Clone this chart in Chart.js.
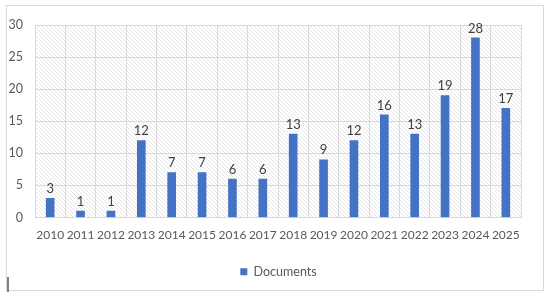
<!DOCTYPE html>
<html>
<head>
<meta charset="utf-8">
<script src="https://cdn.jsdelivr.net/npm/chart.js@4"></script>
<style>
  body { margin: 0; background: #fff; }
  #wrap { position: relative; width: 550px; height: 298px; }
  #frame { position: absolute; left: 6px; top: 5px; width: 536px; height: 284px; border: 1px solid #d9d9d9; }
  #mark { position: absolute; left: 7px; top: 277px; width: 2px; height: 15px; background: #7f7f7f; }
  canvas { position: absolute; left: 0; top: 0; }
</style>
</head>
<body>
<div id="wrap">
  <div id="frame"></div>
  <div id="mark"></div>
  <canvas id="js-chart" width="550" height="298"></canvas>
</div>
<script>
"use strict";

const years = ["2010", "2011", "2012", "2013", "2014", "2015", "2016", "2017", "2018", "2019", "2020", "2021", "2022", "2023", "2024", "2025"];
const documents = [3, 1, 1, 12, 7, 7, 6, 6, 13, 9, 12, 16, 13, 19, 28, 17];
const yTicks = [0, 5, 10, 15, 20, 25, 30];

{
  const ctx = document.getElementById("js-chart").getContext("2d");

  // hatch pattern for plot area
  function makeHatch() {
    const c = document.createElement("canvas");
    c.width = 4;
    c.height = 4;
    const p = c.getContext("2d");
    p.fillStyle = "#ffffff";
    p.fillRect(0, 0, 4, 4);
    p.strokeStyle = "#e6e6e6";
    p.lineWidth = 1;
    p.beginPath();
    p.moveTo(-1, -1);
    p.lineTo(5, 5);
    p.moveTo(-1, 3);
    p.lineTo(1, 5);
    p.moveTo(3, -1);
    p.lineTo(5, 1);
    p.stroke();
    return ctx.createPattern(c, "repeat");
  }
  const hatch = makeHatch();

  const hatchBg = {
    id: "hatchBg",
    beforeDraw(chart) {
      const a = chart.chartArea;
      const c = chart.ctx;
      c.save();
      c.fillStyle = hatch;
      c.fillRect(a.left, a.top, a.right - a.left, a.bottom - a.top);
      c.restore();
    },
  };

  // legend sits a bit right of the plot centre
  const shiftLegend = {
    id: "shiftLegend",
    afterLayout(chart) {
      chart.legend.left += 18;
      chart.legend.right += 18;
    },
  };

  // values above bars
  const valueLabels = {
    id: "valueLabels",
    afterDatasetsDraw(chart) {
      const c = chart.ctx;
      const meta = chart.getDatasetMeta(0);
      c.save();
      c.font = "13px Lato";
      c.fillStyle = "#404040";
      c.textAlign = "center";
      c.textBaseline = "bottom";
      meta.data.forEach((bar, i) => {
        c.fillText(documents[i], bar.x, bar.y - 3);
      });
      c.restore();
    },
  };

  new Chart(ctx, {
    type: "bar",
    data: {
      labels: years,
      datasets: [
        {
          label: "Documents",
          data: documents,
          backgroundColor: "#4472c4",
          barThickness: 8,
        },
      ],
    },
    options: {
      responsive: false,
      animation: false,
      layout: { padding: { left: 0, right: 29, top: 25, bottom: 10 } },
      scales: {
        x: {
          grid: { color: "#d9d9d9", offset: true, drawTicks: false },
          border: { color: "#d9d9d9" },
          ticks: { color: "#595959", font: { family: "Lato", size: 12 }, padding: 10, maxRotation: 0, autoSkip: false },
          afterFit(scale) {
            scale.height = 40;
          },
        },
        y: {
          min: 0,
          max: 30,
          afterBuildTicks(scale) {
            scale.ticks = yTicks.map((v) => ({ value: v }));
          },
          grid: { color: "#d9d9d9", drawTicks: false },
          border: { color: "#d9d9d9" },
          ticks: { color: "#595959", font: { family: "Lato", size: 12.5 }, padding: 12 },
          afterFit(scale) {
            scale.width = 35;
          },
        },
      },
      plugins: {
        legend: {
          position: "bottom",
          labels: {
            color: "#595959",
            font: { family: "Lato", size: 12.5 },
            boxWidth: 7,
            boxHeight: 7,
            padding: 8,
          },
        },
        tooltip: { enabled: false },
      },
    },
    plugins: [hatchBg, shiftLegend, valueLabels],
  });
}
</script>
</body>
</html>
